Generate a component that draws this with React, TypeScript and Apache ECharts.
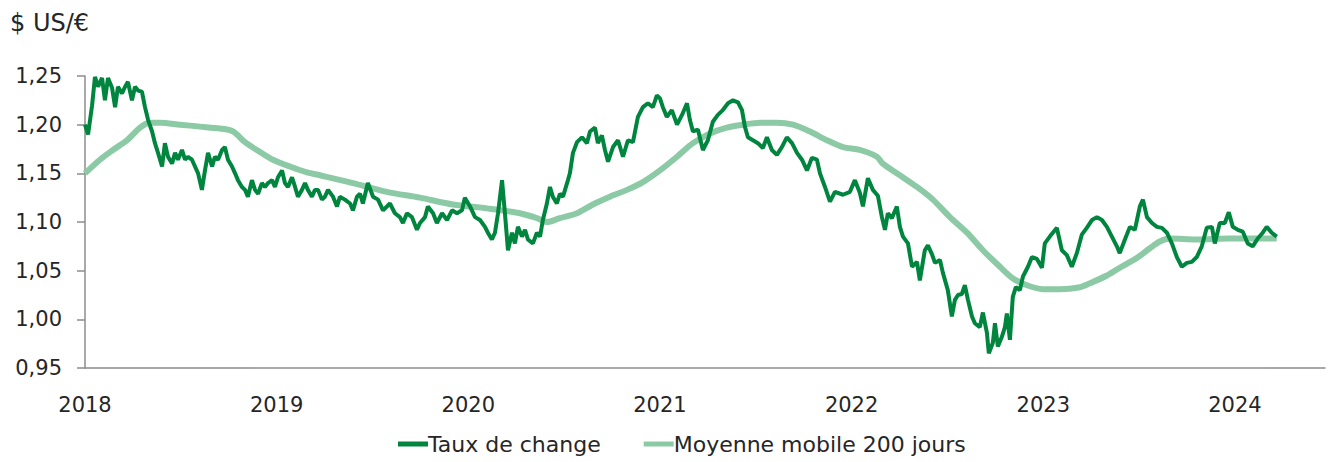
import React, { useEffect, useRef } from "react";
import * as echarts from "echarts";

// Exchange rate (US$ per €), dates as decimal years
const rateDates = [
  2018.000, 2018.016, 2018.037, 2018.052, 2018.068, 2018.089, 2018.104, 2018.120, 2018.141, 2018.157,
  2018.172, 2018.193, 2018.209, 2018.224, 2018.245, 2018.261, 2018.277, 2018.297, 2018.313, 2018.329,
  2018.350, 2018.365, 2018.381, 2018.402, 2018.417, 2018.433, 2018.454, 2018.470, 2018.485, 2018.506,
  2018.522, 2018.537, 2018.558, 2018.574, 2018.590, 2018.610, 2018.626, 2018.642, 2018.663, 2018.678,
  2018.694, 2018.715, 2018.730, 2018.746, 2018.767, 2018.783, 2018.798, 2018.819, 2018.835, 2018.850,
  2018.871, 2018.887, 2018.903, 2018.923, 2018.939, 2018.955, 2018.976, 2018.991, 2019.007, 2019.028,
  2019.043, 2019.059, 2019.080, 2019.096, 2019.111, 2019.132, 2019.148, 2019.163, 2019.184, 2019.200,
  2019.216, 2019.236, 2019.252, 2019.268, 2019.294, 2019.315, 2019.330, 2019.356, 2019.383, 2019.398,
  2019.419, 2019.435, 2019.450, 2019.476, 2019.503, 2019.529, 2019.555, 2019.591, 2019.617, 2019.643,
  2019.659, 2019.680, 2019.706, 2019.732, 2019.748, 2019.774, 2019.789, 2019.816, 2019.836, 2019.863,
  2019.889, 2019.915, 2019.941, 2019.967, 2019.982, 2020.009, 2020.035, 2020.061, 2020.087, 2020.102,
  2020.123, 2020.139, 2020.155, 2020.176, 2020.191, 2020.207, 2020.228, 2020.243, 2020.259, 2020.280,
  2020.296, 2020.311, 2020.337, 2020.358, 2020.374, 2020.389, 2020.410, 2020.426, 2020.441, 2020.462,
  2020.478, 2020.494, 2020.520, 2020.530, 2020.546, 2020.567, 2020.593, 2020.619, 2020.635, 2020.661,
  2020.676, 2020.697, 2020.713, 2020.729, 2020.755, 2020.781, 2020.807, 2020.833, 2020.859, 2020.885,
  2020.911, 2020.937, 2020.963, 2020.984, 2021.000, 2021.015, 2021.036, 2021.062, 2021.089, 2021.115,
  2021.141, 2021.156, 2021.172, 2021.198, 2021.224, 2021.250, 2021.276, 2021.302, 2021.328, 2021.355,
  2021.381, 2021.407, 2021.428, 2021.443, 2021.459, 2021.485, 2021.511, 2021.537, 2021.558, 2021.584,
  2021.610, 2021.636, 2021.662, 2021.689, 2021.715, 2021.741, 2021.767, 2021.793, 2021.819, 2021.835,
  2021.861, 2021.887, 2021.913, 2021.955, 2021.991, 2022.017, 2022.043, 2022.059, 2022.085, 2022.111,
  2022.137, 2022.158, 2022.174, 2022.189, 2022.210, 2022.236, 2022.252, 2022.268, 2022.294, 2022.315,
  2022.341, 2022.356, 2022.382, 2022.398, 2022.419, 2022.435, 2022.461, 2022.476, 2022.502, 2022.523,
  2022.539, 2022.555, 2022.575, 2022.591, 2022.607, 2022.628, 2022.643, 2022.669, 2022.685, 2022.706,
  2022.716, 2022.737, 2022.748, 2022.763, 2022.784, 2022.800, 2022.810, 2022.826, 2022.841, 2022.857,
  2022.878, 2022.894, 2022.920, 2022.941, 2022.967, 2022.993, 2023.008, 2023.034, 2023.071, 2023.097,
  2023.123, 2023.149, 2023.175, 2023.201, 2023.227, 2023.254, 2023.280, 2023.306, 2023.332, 2023.358,
  2023.384, 2023.399, 2023.426, 2023.452, 2023.478, 2023.504, 2023.520, 2023.541, 2023.567, 2023.593,
  2023.619, 2023.645, 2023.671, 2023.697, 2023.723, 2023.749, 2023.775, 2023.801, 2023.827, 2023.853,
  2023.880, 2023.895, 2023.921, 2023.947, 2023.968, 2023.989, 2024.015, 2024.041, 2024.067, 2024.093,
  2024.119, 2024.145, 2024.166, 2024.192, 2024.218,
];
const rateValues = [
  1.200, 1.190, 1.220, 1.249, 1.239, 1.248, 1.225, 1.248, 1.238, 1.218,
  1.239, 1.232, 1.239, 1.244, 1.225, 1.239, 1.235, 1.234, 1.218, 1.205,
  1.193, 1.181, 1.171, 1.157, 1.181, 1.167, 1.160, 1.171, 1.164, 1.174,
  1.164, 1.167, 1.164, 1.157, 1.150, 1.133, 1.153, 1.171, 1.157, 1.167,
  1.164, 1.174, 1.177, 1.164, 1.157, 1.150, 1.143, 1.136, 1.133, 1.126,
  1.143, 1.133, 1.129, 1.140, 1.136, 1.140, 1.143, 1.136, 1.146, 1.153,
  1.140, 1.136, 1.146, 1.136, 1.126, 1.133, 1.140, 1.133, 1.126, 1.133,
  1.133, 1.123, 1.126, 1.133, 1.126, 1.116, 1.126, 1.123, 1.119, 1.112,
  1.126, 1.129, 1.119, 1.140, 1.126, 1.123, 1.112, 1.119, 1.109, 1.105,
  1.099, 1.109, 1.105, 1.092, 1.099, 1.105, 1.116, 1.109, 1.099, 1.109,
  1.102, 1.112, 1.109, 1.112, 1.125, 1.116, 1.105, 1.102, 1.095, 1.089,
  1.082, 1.089, 1.109, 1.143, 1.109, 1.071, 1.089, 1.078, 1.095, 1.085,
  1.092, 1.082, 1.078, 1.089, 1.085, 1.102, 1.119, 1.136, 1.126, 1.119,
  1.129, 1.126, 1.143, 1.150, 1.171, 1.182, 1.187, 1.181, 1.193, 1.197,
  1.181, 1.189, 1.174, 1.162, 1.177, 1.184, 1.167, 1.184, 1.182, 1.208,
  1.218, 1.222, 1.218, 1.230, 1.227, 1.218, 1.208, 1.215, 1.200, 1.210,
  1.222, 1.205, 1.193, 1.195, 1.174, 1.184, 1.203, 1.210, 1.215, 1.222,
  1.225, 1.223, 1.215, 1.198, 1.187, 1.184, 1.181, 1.176, 1.187, 1.174,
  1.169, 1.177, 1.187, 1.181, 1.171, 1.164, 1.153, 1.166, 1.164, 1.150,
  1.136, 1.121, 1.131, 1.128, 1.131, 1.143, 1.130, 1.116, 1.145, 1.133,
  1.127, 1.105, 1.092, 1.109, 1.104, 1.116, 1.095, 1.085, 1.078, 1.054,
  1.059, 1.040, 1.071, 1.076, 1.067, 1.058, 1.061, 1.048, 1.030, 1.003,
  1.020, 1.025, 1.026, 1.035, 1.020, 1.003, 0.996, 0.992, 1.007, 0.986,
  0.965, 0.976, 0.996, 0.972, 0.982, 0.992, 1.006, 0.979, 1.023, 1.033,
  1.030, 1.044, 1.054, 1.064, 1.062, 1.053, 1.078, 1.085, 1.094, 1.071,
  1.066, 1.054, 1.068, 1.087, 1.094, 1.102, 1.105, 1.102, 1.095, 1.085,
  1.075, 1.068, 1.082, 1.095, 1.092, 1.116, 1.123, 1.105, 1.099, 1.095,
  1.094, 1.089, 1.078, 1.064, 1.054, 1.058, 1.059, 1.064, 1.075, 1.094,
  1.095, 1.078, 1.099, 1.099, 1.110, 1.095, 1.092, 1.090, 1.078, 1.075,
  1.083, 1.089, 1.095, 1.089, 1.085,
];

// 200-day moving average
const maDates = [
  2018.000, 2018.078, 2018.146, 2018.219, 2018.287, 2018.339, 2018.391, 2018.496, 2018.600, 2018.704,
  2018.772, 2018.835, 2018.913, 2018.981, 2019.069, 2019.158, 2019.226, 2019.398, 2019.575, 2019.748,
  2019.920, 2020.097, 2020.269, 2020.358, 2020.410, 2020.478, 2020.567, 2020.650, 2020.739, 2020.828,
  2020.911, 2021.000, 2021.089, 2021.172, 2021.261, 2021.349, 2021.433, 2021.522, 2021.610, 2021.694,
  2021.783, 2021.871, 2021.955, 2022.043, 2022.132, 2022.163, 2022.252, 2022.341, 2022.424, 2022.513,
  2022.602, 2022.685, 2022.774, 2022.842, 2022.915, 2022.998, 2023.086, 2023.191, 2023.243, 2023.332,
  2023.399, 2023.488, 2023.556, 2023.608, 2023.660, 2023.801, 2023.974, 2024.218,
];
const maValues = [
  1.150, 1.164, 1.174, 1.184, 1.197, 1.202, 1.202, 1.200, 1.198, 1.196,
  1.193, 1.182, 1.172, 1.164, 1.157, 1.151, 1.148, 1.140, 1.131, 1.125,
  1.118, 1.114, 1.109, 1.104, 1.100, 1.104, 1.109, 1.118, 1.126, 1.133,
  1.141, 1.153, 1.167, 1.181, 1.191, 1.197, 1.200, 1.202, 1.202, 1.200,
  1.193, 1.184, 1.177, 1.174, 1.167, 1.160, 1.148, 1.136, 1.123, 1.105,
  1.089, 1.071, 1.054, 1.042, 1.035, 1.031, 1.031, 1.033, 1.037, 1.045,
  1.053, 1.063, 1.073, 1.080, 1.083, 1.082, 1.083, 1.083,
];

const yearTicks = [2018, 2019, 2020, 2021, 2022, 2023, 2024];

const FONT = "'DejaVu Sans', 'Noto Sans', sans-serif";
const TEXT = "#262626";

export default function App() {
  const ref = useRef<HTMLDivElement>(null);
  useEffect(() => {
    if (!ref.current) return;
    const chart = echarts.init(ref.current, undefined, { renderer: "svg" });
    const rate = rateDates.map((d, i) => [d, rateValues[i]]);
    const ma = maDates.map((d, i) => [d, maValues[i]]);
    chart.setOption({
      animation: false,
      textStyle: { fontFamily: FONT, color: TEXT },
      title: {
        text: "$ US/€",
        left: 10,
        top: 11,
        padding: 0,
        textStyle: { fontFamily: FONT, fontSize: 24, fontWeight: "normal", color: TEXT },
      },
      grid: { left: 85, right: 3, top: 76, bottom: 94, containLabel: false },
      legend: {
        top: 433,
        left: 398,
        padding: 0,
        itemWidth: 30,
        itemHeight: 5,
        itemGap: 43,
        icon: "rect",
        textStyle: { fontFamily: FONT, fontSize: 22, color: TEXT, padding: [0, 0, 0, -5] },
        data: ["Taux de change", "Moyenne mobile 200 jours"],
      },
      xAxis: {
        type: "value",
        min: 2018,
        max: 2024.47,
        interval: 1,
        axisLine: { show: true, lineStyle: { color: "#8c8c8c", width: 1.5 } },
        axisTick: { show: false },
        splitLine: { show: false },
        axisLabel: {
          fontFamily: FONT,
          fontSize: 21,
          color: TEXT,
          margin: 26,
          showMaxLabel: false,
          formatter: (v: number) => (yearTicks.includes(Math.round(v)) ? String(Math.round(v)) : ""),
        },
      },
      yAxis: {
        type: "value",
        min: 0.95,
        max: 1.25,
        interval: 0.05,
        axisLine: { show: true, lineStyle: { color: "#8c8c8c", width: 1.5 } },
        axisTick: { show: true, inside: false, length: 8, lineStyle: { color: "#8c8c8c", width: 1.5 } },
        splitLine: { show: false },
        axisLabel: {
          fontFamily: FONT,
          fontSize: 21,
          color: TEXT,
          margin: 23,
          formatter: (v: number) => v.toFixed(2).replace(".", ","),
        },
      },
      series: [
        {
          name: "Taux de change",
          type: "line",
          data: rate,
          showSymbol: false,
          symbol: "none",
          lineStyle: { color: "#00853f", width: 4 },
          itemStyle: { color: "#00853f" },
          z: 3,
        },
        {
          name: "Moyenne mobile 200 jours",
          type: "line",
          data: ma,
          showSymbol: false,
          symbol: "none",
          smooth: 0.3,
          lineStyle: { color: "#8ccaa5", width: 6 },
          itemStyle: { color: "#8ccaa5" },
          z: 2,
        },
      ],
    });
    return () => chart.dispose();
  }, []);
  return (
    <div
      ref={ref}
      style={{ position: "absolute", left: 0, top: 0, width: 1328, height: 462 }}
    />
  );
}
